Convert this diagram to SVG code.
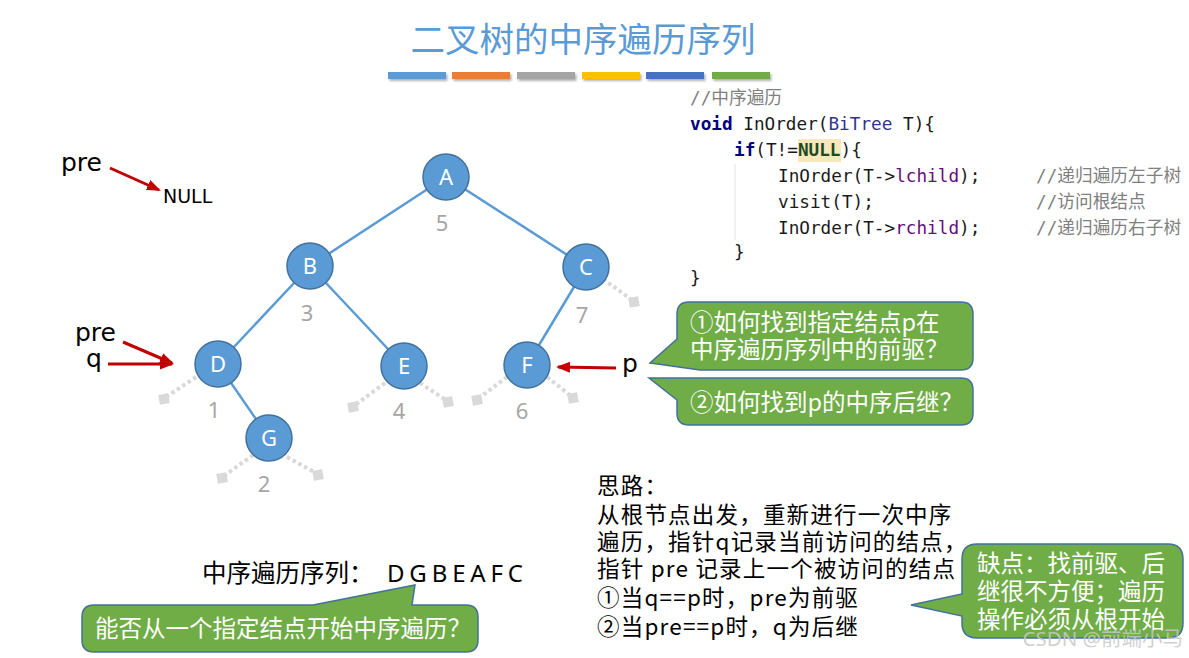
<svg xmlns="http://www.w3.org/2000/svg" width="1189" height="658" viewBox="0 0 1189 658">
<defs>
<style>
.edge{stroke:#5B9BD5;stroke-width:2.5;fill:none}
.node circle{fill:#5B9BD5;stroke:#41719C;stroke-width:1.5}
.node text{fill:#fff;font-family:"Noto Sans","Liberation Sans",sans-serif;font-size:22px;text-anchor:middle}
.num{fill:#A6A6A6;font-family:"Noto Sans","Liberation Sans",sans-serif;font-size:22px;text-anchor:middle}
.stub{stroke:#D9D9D9;stroke-width:4;stroke-dasharray:3.5 3;fill:none}
.sq{fill:#D9D9D9}
.red{stroke:#C00000;stroke-width:3;fill:none;marker-end:url(#ah)}
.lbl{font-family:"DejaVu Sans",sans-serif;fill:#000}
.code{font-family:"DejaVu Sans Mono","Noto Sans CJK SC",monospace;font-size:17.7px;fill:#1a1a1a}
.kw{font-weight:bold;fill:#000080}
.cm{fill:#808080}
.cjk{font-family:"Noto Sans CJK SC","Noto Sans",sans-serif}
.callout{fill:#70AD47;stroke:#41719C;stroke-width:1.5}
.ct{fill:#fff;font-size:23.5px}
.idea{font-size:22.5px;letter-spacing:1.2px;fill:#000}
.bar{filter:url(#sh)}
</style>
<marker id="ah" markerUnits="userSpaceOnUse" markerWidth="14" markerHeight="11" refX="12" refY="5.5" orient="auto">
<path d="M0,0 L14,5.5 L0,11 Z" fill="#C00000"/>
</marker>
<filter id="sh" x="-10%" y="-50%" width="130%" height="250%">
<feDropShadow dx="1.5" dy="2" stdDeviation="1.2" flood-color="#000" flood-opacity="0.3"/>
</filter>
</defs>
<rect width="1189" height="658" fill="#fff"/>

<g id="title">
<text x="583" y="52" text-anchor="middle" class="cjk" font-size="34.5" fill="#5B9BD5">二叉树的中序遍历序列</text>
<rect class="bar" x="388" y="72" width="58" height="7" fill="#5B9BD5"/>
<rect class="bar" x="452" y="72" width="58" height="7" fill="#ED7D31"/>
<rect class="bar" x="517" y="72" width="58" height="7" fill="#A5A5A5"/>
<rect class="bar" x="582" y="72" width="58" height="7" fill="#FFC000"/>
<rect class="bar" x="646" y="72" width="58" height="7" fill="#4472C4"/>
<rect class="bar" x="712" y="72" width="58" height="7" fill="#70AD47"/>
</g>

<g id="connectors">
<line class="edge" x1="446" y1="177" x2="310" y2="266"/>
<line class="edge" x1="446" y1="177" x2="586" y2="267"/>
<line class="edge" x1="310" y1="266" x2="218" y2="364"/>
<line class="edge" x1="310" y1="266" x2="404" y2="366"/>
<line class="edge" x1="586" y1="267" x2="527" y2="365"/>
<line class="edge" x1="218" y1="364" x2="269" y2="438"/>
<line class="stub" x1="603" y1="279" x2="632" y2="300"/>
<line class="stub" x1="196" y1="377" x2="166" y2="397"/>
<line class="stub" x1="385" y1="383" x2="355" y2="405"/>
<line class="stub" x1="420" y1="383" x2="446" y2="400"/>
<line class="stub" x1="507" y1="377" x2="479" y2="398"/>
<line class="stub" x1="542" y1="373" x2="571" y2="396"/>
<line class="stub" x1="253" y1="455" x2="224" y2="476"/>
<line class="stub" x1="287" y1="457" x2="316" y2="473"/>
<rect class="sq" x="629" y="297" width="10" height="10" transform="rotate(-10 634 302)"/>
<rect class="sq" x="159" y="394" width="10" height="10" transform="rotate(-10 164 399)"/>
<rect class="sq" x="348" y="402" width="10" height="10" transform="rotate(-10 353 407)"/>
<rect class="sq" x="443" y="397" width="10" height="10" transform="rotate(-10 448 402)"/>
<rect class="sq" x="472" y="395" width="10" height="10" transform="rotate(-10 477 400)"/>
<rect class="sq" x="568" y="393" width="10" height="10" transform="rotate(-10 573 398)"/>
<rect class="sq" x="217" y="473" width="10" height="10" transform="rotate(-10 222 478)"/>
<rect class="sq" x="313" y="470" width="10" height="10" transform="rotate(-10 318 475)"/>
<line class="red" x1="110" y1="168" x2="159" y2="190"/>
<line class="red" x1="123" y1="342" x2="172" y2="363"/>
<line class="red" x1="108" y1="364" x2="172" y2="364"/>
<line class="red" x1="616" y1="368" x2="558" y2="367"/>
</g>

<g id="node-A" class="node"><circle cx="446" cy="177" r="23"/><text x="446" y="185">A</text></g>
<g id="node-B" class="node"><circle cx="310" cy="266" r="23"/><text x="310" y="274">B</text></g>
<g id="node-C" class="node"><circle cx="586" cy="267" r="23"/><text x="586" y="275">C</text></g>
<g id="node-D" class="node"><circle cx="218" cy="364" r="23"/><text x="218" y="372">D</text></g>
<g id="node-E" class="node"><circle cx="404" cy="366" r="23"/><text x="404" y="374">E</text></g>
<g id="node-F" class="node"><circle cx="527" cy="365" r="23"/><text x="527" y="373">F</text></g>
<g id="node-G" class="node"><circle cx="269" cy="438" r="23"/><text x="269" y="446">G</text></g>

<g id="order-numbers">
<text class="num" x="442" y="231">5</text>
<text class="num" x="307" y="321">3</text>
<text class="num" x="582" y="323">7</text>
<text class="num" x="214" y="418">1</text>
<text class="num" x="399" y="419">4</text>
<text class="num" x="522" y="419">6</text>
<text class="num" x="264" y="492">2</text>
</g>

<g id="pointer-labels">
<text class="lbl" x="61" y="171" font-size="25">pre</text>
<text class="lbl" x="163" y="203" font-size="19">NULL</text>
<text class="lbl" x="75" y="341" font-size="25">pre</text>
<text class="lbl" x="86" y="367" font-size="25">q</text>
<text class="lbl" x="622" y="372" font-size="25">p</text>
</g>

<g id="code">
<line x1="735" y1="164" x2="735" y2="240" stroke="#E3E3E3" stroke-width="1"/>
<rect x="798" y="139" width="43" height="23" fill="#F7E8BC"/>
<text class="code" x="690" y="104"><tspan class="cm">//中序遍历</tspan></text>
<text class="code" x="690" y="130"><tspan class="kw">void</tspan> InOrder(<tspan fill="#34348C">BiTree</tspan> T){</text>
<text class="code" x="734" y="156"><tspan class="kw">if</tspan>(T!=<tspan font-weight="bold" fill="#1F4A1F">NULL</tspan>){</text>
<text class="code" x="778" y="182">InOrder(T-&gt;<tspan fill="#660E7A">lchild</tspan>);</text>
<text class="code cm" x="1036" y="182">//递归遍历左子树</text>
<text class="code" x="778" y="208">visit(T);</text>
<text class="code cm" x="1036" y="208">//访问根结点</text>
<text class="code" x="778" y="234">InOrder(T-&gt;<tspan fill="#660E7A">rchild</tspan>);</text>
<text class="code cm" x="1036" y="234">//递归遍历右子树</text>
<text class="code" x="734" y="258">}</text>
<text class="code" x="690" y="284">}</text>
</g>

<g id="callout-pred">
<path class="callout" d="M689,302 H961 Q973,302 973,314 V358 Q973,370 961,370 H700 L650,363 L677,339 V314 Q677,302 689,302 Z"/>
<text class="cjk ct" x="690" y="331">①如何找到指定结点p在</text>
<text class="cjk ct" x="690" y="358">中序遍历序列中的前驱？</text>
</g>
<g id="callout-succ">
<path class="callout" d="M649,378 L692,378 H961 Q973,378 973,390 V413 Q973,425 961,425 H689 Q677,425 677,413 V400 Z"/>
<text class="cjk ct" x="690" y="411">②如何找到p的中序后继？</text>
</g>
<g id="sequence">
<text class="cjk" x="202" y="582" font-size="24.5" fill="#000">中序遍历序列：</text>
<text x="387" y="582" font-family="Noto Sans, sans-serif" font-size="24" fill="#000" textLength="136" lengthAdjust="spacing">D G B E A F C</text>
</g>
<g id="callout-start">
<path class="callout" d="M94,605 H313 L415,585 L412,605 H466 Q478,605 478,617 V640 Q478,652 466,652 H94 Q82,652 82,640 V617 Q82,605 94,605 Z"/>
<text class="cjk ct" x="95" y="637" font-size="23.2">能否从一个指定结点开始中序遍历？</text>
</g>

<g id="idea">
<text class="cjk idea" x="597" y="494">思路：</text>
<text class="cjk idea" x="597" y="523">从根节点出发，重新进行一次中序</text>
<text class="cjk idea" x="597" y="550">遍历，指针q记录当前访问的结点，</text>
<text class="cjk idea" x="597" y="577">指针 pre 记录上一个被访问的结点</text>
<text class="cjk idea" x="597" y="606">①当q==p时，pre为前驱</text>
<text class="cjk idea" x="597" y="635">②当pre==p时，q为后继</text>
</g>

<g id="callout-drawback">
<path class="callout" d="M977,544 H1168 Q1183,544 1183,559 V623 Q1183,638 1168,638 H977 Q962,638 962,623 V616 L911,605 L962,594 V559 Q962,544 977,544 Z"/>
<text class="cjk ct" x="977" y="572" font-size="23.1">缺点：找前驱、后</text>
<text class="cjk ct" x="977" y="600" font-size="23.1">继很不方便；遍历</text>
<text class="cjk ct" x="977" y="628" font-size="23.1">操作必须从根开始</text>
</g>

<text x="1183" y="646" text-anchor="end" font-family="Noto Sans, Noto Sans CJK SC, sans-serif" font-size="20.5" fill="#C8C8C8" fill-opacity="0.85">CSDN @前端小马</text>
</svg>
